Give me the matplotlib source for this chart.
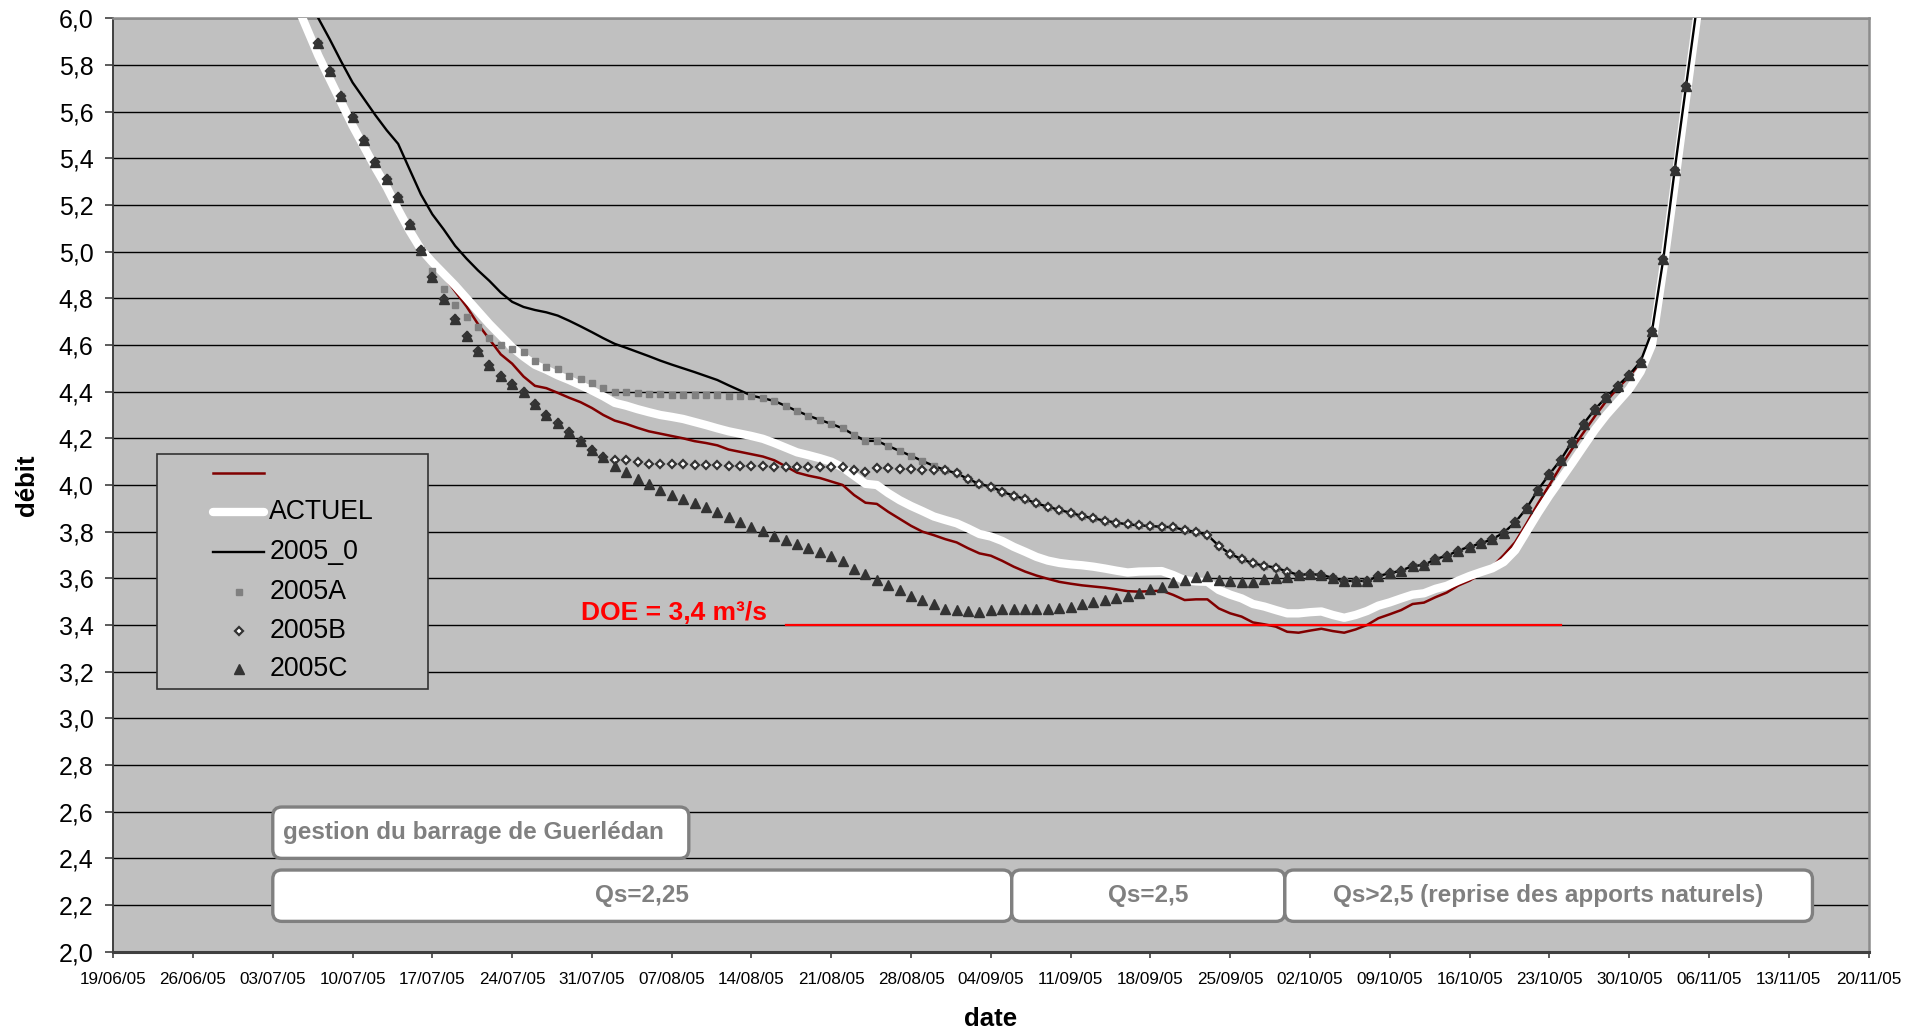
import datetime as dt
import numpy as np
import matplotlib
matplotlib.use("Agg")
import matplotlib.pyplot as plt
import matplotlib.dates as mdates
from matplotlib.patches import FancyBboxPatch, Rectangle
from matplotlib.lines import Line2D

plt.rcParams['font.family'] = ['Liberation Sans', 'DejaVu Sans']

# ---------------------------------------------------------------- data
AXIS_START = "2005-06-19"
AXIS_END = "2005-11-20"
DOE = 3.4
DOE_FROM, DOE_TO = "2005-08-17", "2005-10-24"

# daily flows (m3/s)
ACTUEL_START = "2005-07-05"
actuel = [
    6.070, 5.955, 5.840, 5.740, 5.640, 5.540, 5.450, 5.360, 5.276, 5.180,
    5.090, 5.010, 4.955, 4.905, 4.855, 4.800, 4.745, 4.690, 4.640, 4.590,
    4.550, 4.515, 4.494, 4.470, 4.450, 4.428, 4.405, 4.380, 4.352, 4.340,
    4.325, 4.312, 4.300, 4.292, 4.283, 4.270, 4.257, 4.243, 4.230, 4.220,
    4.210, 4.198, 4.180, 4.160, 4.140, 4.128, 4.115, 4.100, 4.075, 4.040,
    4.005, 4.000, 3.965, 3.935, 3.910, 3.888, 3.865, 3.850, 3.836, 3.814,
    3.790, 3.779, 3.760, 3.735, 3.714, 3.692, 3.676, 3.666, 3.660, 3.656,
    3.650, 3.642, 3.633, 3.625, 3.629, 3.630, 3.631, 3.614, 3.592, 3.587,
    3.585, 3.550, 3.530, 3.514, 3.490, 3.479, 3.464, 3.450, 3.450, 3.455,
    3.458, 3.443, 3.431, 3.443, 3.460, 3.483, 3.497, 3.514, 3.530, 3.536,
    3.555, 3.568, 3.590, 3.610, 3.627, 3.643, 3.670, 3.720, 3.800, 3.880,
    3.955, 4.024, 4.094, 4.166, 4.237, 4.300, 4.355, 4.410, 4.485, 4.600,
    4.930, 5.290, 5.660, 6.020,
]

RED_START = "2005-07-05"
red_series = [
    6.070, 5.955, 5.840, 5.740, 5.640, 5.545, 5.455, 5.370, 5.280, 5.185,
    5.095, 5.010, 4.945, 4.895, 4.830, 4.765, 4.690, 4.625, 4.560, 4.520,
    4.465, 4.425, 4.415, 4.395, 4.374, 4.355, 4.330, 4.300, 4.276, 4.262,
    4.245, 4.230, 4.220, 4.210, 4.200, 4.188, 4.180, 4.170, 4.152, 4.142,
    4.132, 4.122, 4.106, 4.080, 4.053, 4.040, 4.030, 4.015, 4.000, 3.957,
    3.924, 3.919, 3.885, 3.855, 3.825, 3.800, 3.785, 3.768, 3.754, 3.729,
    3.707, 3.697, 3.675, 3.650, 3.629, 3.612, 3.598, 3.585, 3.577, 3.570,
    3.565, 3.560, 3.553, 3.545, 3.543, 3.545, 3.547, 3.529, 3.507, 3.510,
    3.510, 3.471, 3.450, 3.436, 3.411, 3.403, 3.393, 3.371, 3.367, 3.376,
    3.384, 3.374, 3.367, 3.381, 3.400, 3.429, 3.446, 3.464, 3.490, 3.496,
    3.519, 3.539, 3.569, 3.590, 3.620, 3.650, 3.700, 3.755, 3.835, 3.920,
    4.000, 4.080, 4.155, 4.225, 4.295, 4.360, 4.415, 4.465, 4.525, 4.640,
    4.950, 5.330, 5.700, 6.050,
]

S2005_0_START = "2005-07-06"
s2005_0 = [
    6.090, 6.000, 5.910, 5.815, 5.725, 5.655, 5.585, 5.520, 5.462, 5.353,
    5.245, 5.160, 5.095, 5.025, 4.970, 4.920, 4.875, 4.825, 4.785, 4.763,
    4.750, 4.740, 4.726, 4.704, 4.680, 4.655, 4.629, 4.605, 4.588, 4.570,
    4.552, 4.533, 4.516, 4.500, 4.484, 4.467, 4.450, 4.427, 4.405, 4.383,
    4.372, 4.360, 4.339, 4.317, 4.297, 4.279, 4.262, 4.243, 4.215, 4.189,
    4.189, 4.167, 4.146, 4.125, 4.103, 4.082, 4.064, 4.050, 4.026, 4.004,
    3.993, 3.971, 3.954, 3.940, 3.921, 3.907, 3.893, 3.881, 3.867, 3.857,
    3.847, 3.839, 3.831, 3.827, 3.824, 3.821, 3.819, 3.807, 3.799, 3.786,
    3.739, 3.704, 3.683, 3.664, 3.654, 3.646, 3.629, 3.615, 3.618, 3.615,
    3.602, 3.589, 3.589, 3.589, 3.610, 3.622, 3.633, 3.653, 3.657, 3.683,
    3.696, 3.719, 3.736, 3.750, 3.768, 3.796, 3.840, 3.900, 3.979, 4.046,
    4.108, 4.186, 4.262, 4.325, 4.376, 4.425, 4.472, 4.529, 4.658, 4.969,
    5.352, 5.712, 6.070,
]

SCEN_START = "2005-07-07"
s2005A = [
    5.893, 5.776, 5.668, 5.575, 5.479, 5.386, 5.312, 5.233, 5.118, 5.005,
    4.915, 4.840, 4.772, 4.722, 4.675, 4.632, 4.600, 4.583, 4.572, 4.533,
    4.507, 4.496, 4.467, 4.456, 4.437, 4.417, 4.397, 4.397, 4.393, 4.390,
    4.390, 4.387, 4.387, 4.387, 4.387, 4.387, 4.383, 4.383, 4.383, 4.372,
    4.360, 4.339, 4.317, 4.297, 4.279, 4.262, 4.243, 4.215, 4.189, 4.189,
    4.167, 4.146, 4.125, 4.103, 4.082, 4.064, 4.050, 4.026, 4.004, 3.993,
    3.971, 3.954, 3.940, 3.921, 3.907, 3.893, 3.881, 3.867, 3.857, 3.847,
    3.839, 3.831, 3.827, 3.824, 3.821, 3.819, 3.807, 3.799, 3.786, 3.739,
    3.704, 3.683, 3.664, 3.654, 3.646, 3.629, 3.615, 3.618, 3.615, 3.602,
    3.589, 3.589, 3.589, 3.610, 3.622, 3.633, 3.653, 3.657, 3.683, 3.696,
    3.719, 3.736, 3.750, 3.768, 3.796, 3.840, 3.900, 3.979, 4.046, 4.108,
    4.186, 4.262, 4.325, 4.376, 4.425, 4.472, 4.529, 4.658, 4.969, 5.352,
    5.712,
]
s2005B = [
    5.893, 5.776, 5.668, 5.575, 5.479, 5.386, 5.312, 5.233, 5.118, 5.005,
    4.890, 4.797, 4.712, 4.639, 4.576, 4.515, 4.467, 4.432, 4.397, 4.345,
    4.302, 4.267, 4.225, 4.187, 4.152, 4.119, 4.105, 4.105, 4.097, 4.092,
    4.092, 4.089, 4.089, 4.086, 4.086, 4.086, 4.083, 4.083, 4.082, 4.081,
    4.079, 4.076, 4.076, 4.076, 4.076, 4.076, 4.076, 4.065, 4.057, 4.072,
    4.072, 4.069, 4.068, 4.065, 4.065, 4.064, 4.050, 4.026, 4.004, 3.993,
    3.971, 3.954, 3.940, 3.921, 3.907, 3.893, 3.881, 3.867, 3.857, 3.847,
    3.839, 3.831, 3.827, 3.824, 3.821, 3.819, 3.807, 3.799, 3.786, 3.739,
    3.704, 3.683, 3.664, 3.654, 3.646, 3.629, 3.615, 3.618, 3.615, 3.602,
    3.589, 3.589, 3.589, 3.610, 3.622, 3.633, 3.653, 3.657, 3.683, 3.696,
    3.719, 3.736, 3.750, 3.768, 3.796, 3.840, 3.900, 3.979, 4.046, 4.108,
    4.186, 4.262, 4.325, 4.376, 4.425, 4.472, 4.529, 4.658, 4.969, 5.352,
    5.712,
]
s2005C = [
    5.893, 5.776, 5.668, 5.575, 5.479, 5.386, 5.312, 5.233, 5.118, 5.005,
    4.890, 4.797, 4.712, 4.639, 4.576, 4.515, 4.467, 4.432, 4.397, 4.345,
    4.302, 4.267, 4.225, 4.187, 4.152, 4.119, 4.082, 4.057, 4.027, 4.003,
    3.979, 3.957, 3.939, 3.922, 3.905, 3.886, 3.864, 3.843, 3.822, 3.803,
    3.783, 3.765, 3.747, 3.729, 3.714, 3.695, 3.674, 3.642, 3.620, 3.595,
    3.570, 3.548, 3.524, 3.508, 3.488, 3.470, 3.464, 3.460, 3.457, 3.464,
    3.467, 3.467, 3.467, 3.467, 3.470, 3.474, 3.479, 3.489, 3.500, 3.507,
    3.514, 3.526, 3.539, 3.554, 3.564, 3.586, 3.593, 3.604, 3.610, 3.593,
    3.589, 3.586, 3.586, 3.596, 3.600, 3.607, 3.615, 3.618, 3.615, 3.602,
    3.589, 3.589, 3.589, 3.610, 3.622, 3.633, 3.653, 3.657, 3.683, 3.696,
    3.719, 3.736, 3.750, 3.768, 3.796, 3.840, 3.900, 3.979, 4.046, 4.108,
    4.186, 4.262, 4.325, 4.376, 4.425, 4.472, 4.529, 4.658, 4.969, 5.352,
    5.712,
]

legend_labels = ["", "ACTUEL", "2005_0", "2005A", "2005B", "2005C"]

# management periods shown under the curves
gestion_title = "gestion du barrage de Guerlédan"
periods = [
    ("Qs=2,25", "2005-07-03", "2005-09-05 20:00"),
    ("Qs=2,5", "2005-09-05 20:00", "2005-09-29 19:00"),
    ("Qs>2,5 (reprise des apports naturels)", "2005-09-29 19:00", "2005-11-15 02:00"),
]


def daily(start, values):
    return mdates.datestr2num(start) + np.arange(len(values))


# ---------------------------------------------------------------- figure
W, H, DPI = 1930, 1031, 100
fig = plt.figure(figsize=(W / DPI, H / DPI), dpi=DPI)
fig.patch.set_facecolor("white")

AX_L, AX_R, AX_T, AX_B = 113.2, 1868.5, 18.3, 951.7
ax = fig.add_axes([AX_L / W, 1 - AX_B / H, (AX_R - AX_L) / W, (AX_B - AX_T) / H])
ax.set_facecolor("#C0C0C0")

x0 = mdates.datestr2num(AXIS_START)
x1 = mdates.datestr2num(AXIS_END)
ax.set_xlim(x0, x1)
ax.set_ylim(2.0, 6.0)

yt = np.round(np.arange(2.0, 6.01, 0.2), 1)
ax.set_yticks(yt)
ax.set_yticklabels([f"{v:.1f}".replace(".", ",") for v in yt])
xt = np.arange(x0, x1 + 0.5, 7)
ax.set_xticks(xt)
ax.set_xticklabels([mdates.num2date(v).strftime("%d/%m/%y") for v in xt])

ax.yaxis.grid(True, color="black", lw=1.0)
ax.set_axisbelow(True)

ax.tick_params(axis="y", direction="out", length=5.8, width=1.2, color="#404040",
               pad=8.4, labelsize=18)
ax.tick_params(axis="x", direction="out", length=4.5, width=1.2, color="#404040",
               pad=10, labelsize=12.3)
ax.spines["left"].set_color("#404040")
ax.spines["left"].set_linewidth(1.4)
ax.spines["bottom"].set_color("#404040")
ax.spines["bottom"].set_linewidth(2.2)
for s in ("top", "right"):
    ax.spines[s].set_color("#8C8C8C")
    ax.spines[s].set_linewidth(1.8)

# series
RED = "#800000"
ax.plot(daily(RED_START, red_series), red_series, color=RED, lw=1.8, zorder=3)
ax.plot(daily(ACTUEL_START, actuel), actuel, color="white", lw=6.0,
        solid_capstyle="round", solid_joinstyle="round", zorder=4)
ax.plot(daily(S2005_0_START, s2005_0), s2005_0, color="black", lw=1.7, zorder=5)
ax.plot(daily(SCEN_START, s2005A), s2005A, ls="none", marker="s", ms=5,
        mfc="#808080", mec="#808080", zorder=6)
ax.plot(daily(SCEN_START, s2005B), s2005B, ls="none", marker="D", ms=4.2,
        mfc="white", mec="#333333", mew=1.6, zorder=7)
ax.plot(daily(SCEN_START, s2005C), s2005C, ls="none", marker="^", ms=6.8,
        mfc="#333333", mec="#333333", zorder=8)

# DOE threshold
ax.plot([mdates.datestr2num(DOE_FROM), mdates.datestr2num(DOE_TO)], [DOE, DOE],
        color="#FF0000", lw=1.6, zorder=9)
ax.text(mdates.datestr2num("2005-07-30 02:00"), DOE + 0.05,
        f"DOE = {DOE:.1f}".replace(".", ",") + " m³/s",
        color="#FF0000", fontsize=19, fontweight="bold", ha="left", va="center",
        zorder=10)

# rounded boxes for the management periods
xpp = (x1 - x0) / (AX_R - AX_L)          # days per pixel
ypp = 4.0 / (AX_B - AX_T)                # flow units per pixel
aspect = ypp / xpp


def rounded_box(xa, xb, ya, yb, text, ha="center"):
    box = FancyBboxPatch((xa, ya), xb - xa, yb - ya,
                         boxstyle=f"round,pad=0,rounding_size={9 * xpp}",
                         mutation_aspect=aspect, facecolor="white",
                         edgecolor="#808080", lw=2.4, zorder=11)
    ax.add_patch(box)
    if ha == "center":
        tx = (xa + xb) / 2
    else:
        tx = xa + 10 * xpp
    ax.text(tx, (ya + yb) / 2, text, ha=ha, va="center", color="#808080",
            fontsize=17.5, fontweight="bold", zorder=12)


rounded_box(mdates.datestr2num("2005-07-03"), mdates.datestr2num("2005-08-08 12:00"),
            2.40, 2.62, gestion_title, ha="left")
for label, a, b in periods:
    rounded_box(mdates.datestr2num(a), mdates.datestr2num(b), 2.13, 2.35, label)

# axis titles
fig.text(27 / W, 1 - 485 / H, "débit", rotation=90, ha="center", va="center",
         fontsize=18.5, fontweight="bold")
fig.text(991 / W, 1 - 1019 / H, "date", ha="center", va="center",
         fontsize=18.5, fontweight="bold")


# legend box
def fx(px):
    return px / W


def fy(py):
    return 1 - py / H


fig.add_artist(Rectangle((fx(156.7), fy(689)), (428.3 - 156.7) / W, (689 - 454.3) / H,
                         transform=fig.transFigure, facecolor="#C0C0C0",
                         edgecolor="#333333", lw=1.2, zorder=20))
rows = [473.3, 511.7, 551.7, 591.7, 630.7, 669.3]
hx0, hx1, hm = 213, 264, 239
styles = [
    dict(color=RED, lw=1.8),
    dict(color="white", lw=6.0, solid_capstyle="round"),
    dict(color="black", lw=1.7),
    dict(ls="none", marker="s", ms=5, mfc="#808080", mec="#808080"),
    dict(ls="none", marker="D", ms=4.2, mfc="white", mec="#333333", mew=1.6),
    dict(ls="none", marker="^", ms=6.8, mfc="#333333", mec="#333333"),
]
for ry, st, lab in zip(rows, styles, legend_labels):
    if st.get("ls") == "none":
        xs, ys = [fx(hm)], [fy(ry)]
    else:
        xs, ys = [fx(hx0), fx(hx1)], [fy(ry), fy(ry)]
    fig.add_artist(Line2D(xs, ys, transform=fig.transFigure, zorder=21, **st))
    fig.text(fx(269.3), fy(ry), lab, ha="left", va="center", fontsize=19.2,
             zorder=22)

fig.savefig("out.png", dpi=DPI, facecolor="white")
